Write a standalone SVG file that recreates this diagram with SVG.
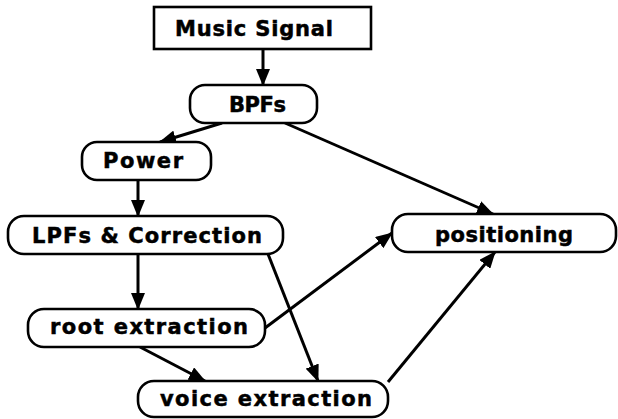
<svg xmlns="http://www.w3.org/2000/svg" width="618" height="419" viewBox="0 0 618 419">
<defs>
<marker id="ah" viewBox="0 0 17 14" refX="16" refY="7" markerWidth="17" markerHeight="14" markerUnits="userSpaceOnUse" orient="auto">
<path d="M0,0 L17,7 L0,14 Z" fill="#000"/>
</marker>
<style>
.box{fill:#fff;stroke:#000;stroke-width:2.6}
.lbl{font-family:"DejaVu Sans",sans-serif;font-weight:bold;font-size:21px;fill:#000;stroke:#000;stroke-width:0.5}
.edge{stroke:#000;stroke-width:3;fill:none;marker-end:url(#ah)}
</style>
</defs>
<rect width="618" height="419" fill="#fff"/>
<g id="connectors">
<line class="edge" x1="263" y1="49" x2="263" y2="85"/>
<line class="edge" x1="222" y1="123" x2="160" y2="142"/>
<line class="edge" x1="285" y1="123" x2="493" y2="214"/>
<line class="edge" x1="138" y1="180" x2="138" y2="216"/>
<line class="edge" x1="138" y1="254" x2="138" y2="309"/>
<line class="edge" x1="268" y1="254" x2="318" y2="381"/>
<line class="edge" x1="140" y1="347" x2="205" y2="381"/>
<line class="edge" x1="265" y1="328" x2="392" y2="233"/>
<line class="edge" x1="388" y1="382" x2="495" y2="252"/>
</g>
<g id="music-signal">
<rect class="box" x="154" y="7" width="217" height="42"/>
<text class="lbl" x="175" y="36" textLength="158" lengthAdjust="spacing">Music Signal</text>
</g>
<g id="bpfs">
<rect class="box" x="190" y="85" width="127" height="38" rx="15"/>
<text class="lbl" x="229" y="112" textLength="57" lengthAdjust="spacing">BPFs</text>
</g>
<g id="power">
<rect class="box" x="82" y="142" width="129" height="38" rx="15"/>
<text class="lbl" x="103" y="168" textLength="80" lengthAdjust="spacing">Power</text>
</g>
<g id="lpfs">
<rect class="box" x="8" y="216" width="275" height="38" rx="16"/>
<text class="lbl" x="32" y="243" textLength="230" lengthAdjust="spacing">LPFs &amp; Correction</text>
</g>
<g id="root">
<rect class="box" x="28" y="309" width="237" height="38" rx="16"/>
<text class="lbl" x="50" y="334" textLength="198" lengthAdjust="spacing">root extraction</text>
</g>
<g id="voice">
<rect class="box" x="138" y="381" width="250" height="36" rx="16"/>
<text class="lbl" x="160" y="406" textLength="212" lengthAdjust="spacing">voice extraction</text>
</g>
<g id="positioning">
<rect class="box" x="392" y="214" width="224" height="38" rx="16"/>
<text class="lbl" x="435" y="242" textLength="138" lengthAdjust="spacing">positioning</text>
</g>
</svg>
